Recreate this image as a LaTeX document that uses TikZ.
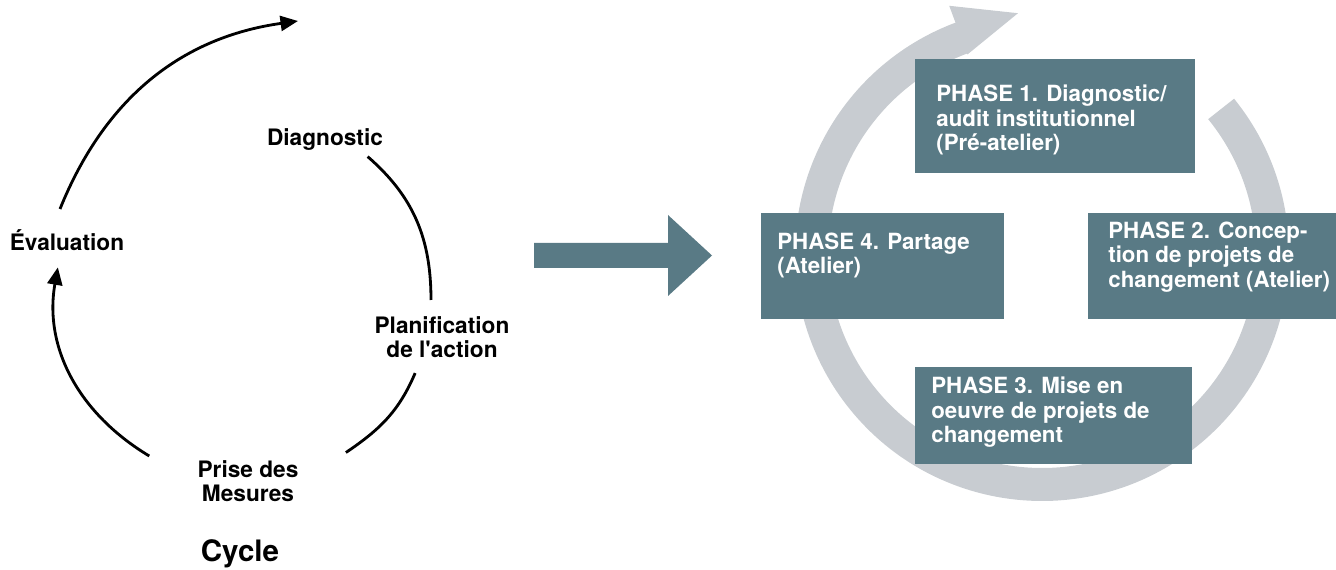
\documentclass[tikz,border=0pt]{standalone}
\usepackage{fontspec}
\setmainfont{TeX Gyre Heros}
\usetikzlibrary{arrows.meta, positioning, calc}
\definecolor{phaseblue}{RGB}{89,122,133}
\definecolor{ringgray}{RGB}{200,204,209}

\begin{document}
\begin{tikzpicture}[
    x=0.02cm, y=0.02cm,
    cyclelabel/.style={font=\fontsize{12.9}{14}\selectfont\bfseries, align=center, inner sep=0pt},
    cyclearc/.style={line width=1.6pt},
    cyclearrow/.style={cyclearc, -{Triangle[length=0.35cm, width=0.3cm]}},
    phasebox/.style={rectangle, fill=phaseblue, inner sep=0pt, anchor=north west},
    phasetext/.style={text=white, font=\fontsize{12.7}{13.7}\selectfont\bfseries,
                 align=left, inner sep=0pt, anchor=north west}
]
    \useasboundingbox (0,0) rectangle (1336,-570);

    % left: the cycle
    \coordinate (cyc) at (243,-300);
    \node[cyclelabel] (diag) at (325,-140) {Diagnostic};
    \node[cyclelabel] (plan) at (442,-337) {Planification\\de l\textquotesingle action};
    \node[cyclelabel] (prise) at (248,-481) {Prise des\\Mesures};
    \node[cyclelabel] (eval) at (67,-240) {Évaluation};
    \node[font=\fontsize{16.8}{20}\selectfont\bfseries, inner sep=0pt] (cycle) at (240,-554) {Cycle};

    \coordinate (a1s) at ($(cyc)+(49:190)$);
    \coordinate (a1e) at ($(cyc)+(0:188)$);
    \coordinate (a2s) at ($(cyc)+(-23:187)$);
    \coordinate (a2e) at ($(cyc)+(-56:184)$);
    \coordinate (a3s) at ($(cyc)+(239:182)$);
    \coordinate (a3e) at ($(cyc)+(170:188)$);
    \coordinate (a4s) at (60,-209);
    \coordinate (a4e) at (298,-21);

    \draw[cyclearc] (a1s) to[out=-41, in=90] (a1e);
    \draw[cyclearc] (a2s) to[out=-113, in=34] (a2e);
    \draw[cyclearrow] (a3s) to[out=149, in=-100] (a3e);
    \draw[cyclearrow] (a4s) to[out=68, in=188] (a4e);

    % middle arrow
    \fill[phaseblue] (534,-243) -- (668,-243) -- (668,-215) -- (712,-255.5)
        -- (668,-296) -- (668,-268) -- (534,-268) -- cycle;

    % right: the phases
    \coordinate (ring) at (1042,-254);
    \draw[ringgray, line width=0.66cm] ($(ring)+(39:230.5)$)
        arc[start angle=39, end angle=-249.8, radius=230.5];
    \fill[ringgray] ($(ring)+(110.5:213)$) -- ($(ring)+(95.7:242)$)
        -- ($(ring)+(110.5:265)$) -- cycle;

    \node[phasebox, minimum width=5.6cm, minimum height=2.28cm] (ph1) at (915,-59) {};
    \node[phasebox, minimum width=4.96cm, minimum height=2.12cm] (ph2) at (1088,-213) {};
    \node[phasebox, minimum width=5.54cm, minimum height=1.94cm] (ph3) at (915,-367) {};
    \node[phasebox, minimum width=4.86cm, minimum height=2.12cm] (ph4) at (761,-213) {};

    \node[phasetext] (ph1text) at ($(ph1.north west)+(21,-26)$)
        {PHASE 1. Diagnostic/\\audit institutionnel\\(Pré-atelier)};
    \node[phasetext] (ph2text) at ($(ph2.north west)+(20,-9)$)
        {PHASE 2. Concep-\\tion de projets de\\changement (Atelier)};
    \node[phasetext] (ph3text) at ($(ph3.north west)+(16,-10)$)
        {PHASE 3. Mise en\\oeuvre de projets de\\changement};
    \node[phasetext] (ph4text) at ($(ph4.north west)+(16,-20)$)
        {PHASE 4. Partage\\(Atelier)};
\end{tikzpicture}
\end{document}
